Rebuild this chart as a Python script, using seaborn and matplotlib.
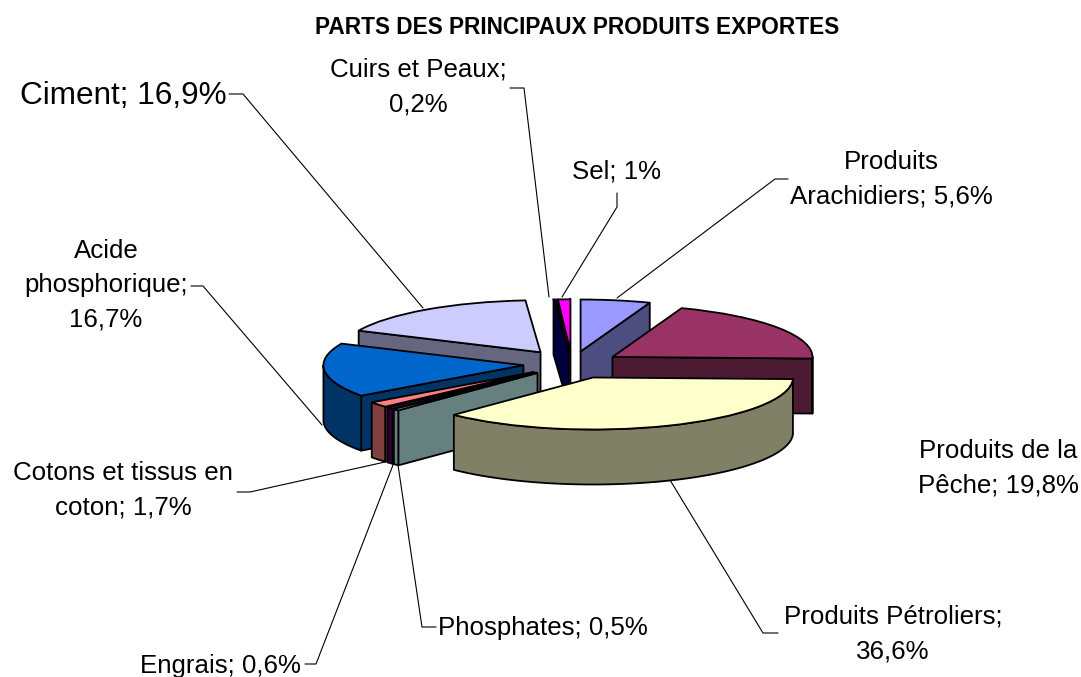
import numpy as np
import matplotlib
matplotlib.use("Agg")
import matplotlib.pyplot as plt
from matplotlib.colors import to_rgb
from matplotlib.patches import Polygon
from matplotlib.transforms import Affine2D
import seaborn as sns

categories = ["Produits Arachidiers", "Produits de la Pêche", "Produits Pétroliers",
              "Phosphates", "Engrais", "Cotons et tissus en coton",
              "Acide phosphorique", "Ciment", "Cuirs et Peaux", "Sel"]
shares = [5.6, 19.8, 36.6, 0.5, 0.6, 1.7, 16.7, 16.9, 0.2, 1.0]
palette_hex = ["#9999FF", "#993366", "#FFFFCC", "#CCFFFF", "#660066",
               "#FF8080", "#0066CC", "#CCCCFF", "#000080", "#FF00FF"]
explode_by_slice = [0.244, 0.244, 0.28, 0.244, 0.244, 0.244, 0.244, 0.275, 0.244, 0.244]

W, H = 1081, 677
CX, CY, RX, RY, DEPTH = 572, 364, 200, 52, 55
EDGE = 1.3

sns.set_theme(style="white")
plt.rcParams["font.family"] = ["Liberation Sans", "DejaVu Sans"]
colors = sns.color_palette(palette_hex, n_colors=len(palette_hex))

fig = plt.figure(figsize=(W / 100, H / 100), dpi=100, facecolor="white")
ax = fig.add_axes([0, 0, 1, 1])
wedges, _ = ax.pie(shares, colors=colors, startangle=90, counterclock=False,
                   explode=explode_by_slice, radius=1,
                   wedgeprops=dict(edgecolor="black", linewidth=EDGE))
ax.set_aspect("auto")
ax.set_xlim(-CX / RX, (W - CX) / RX)
ax.set_ylim((CY - H) / RY, CY / RY)
ax.axis("off")
depth = DEPTH / RY


def pt(c, ang):
    return np.array([c[0] + np.cos(np.radians(ang)), c[1] + np.sin(np.radians(ang))])


def centroid_y(w):
    mid = np.radians((w.theta1 + w.theta2) / 2)
    return w.center[1] + 0.5 * np.sin(mid)


order = sorted(range(len(wedges)), key=lambda i: -centroid_y(wedges[i]))
for rank, i in enumerate(order):
    w = wedges[i]
    z = 2 + rank * 3
    side = tuple(0.5 * v for v in to_rgb(colors[i]))
    style = dict(facecolor=side, edgecolor="black", linewidth=EDGE, joinstyle="round")
    c, a, b = w.center, w.theta1, w.theta2
    down = np.array([0, -depth])
    if np.cos(np.radians(a)) > 0:
        p = pt(c, a)
        ax.add_patch(Polygon([c, p, p + down, np.array(c) + down], zorder=z, **style))
    if np.cos(np.radians(b)) < 0:
        p = pt(c, b)
        ax.add_patch(Polygon([c, p, p + down, np.array(c) + down], zorder=z, **style))
    a0 = a % 360
    b0 = a0 + (b - a)
    for lo, hi in ((180, 360), (540, 720)):
        s, e = max(a0, lo), min(b0, hi)
        if e > s:
            t = np.linspace(s, e, 80)
            top = np.array([pt(c, x) for x in t])
            ax.add_patch(Polygon(np.vstack([top, (top + down)[::-1]]), zorder=z + 1, **style))
    w.set_zorder(z + 2)

px = Affine2D().scale(1, -1).translate(0, H)

title = "PARTS DES PRINCIPAUX PRODUITS EXPORTES"
ax.text(577, 28, title, transform=px, ha="center", va="center",
        fontsize=16.3, fontweight="bold", color="black")

labels = [
    ("Cuirs et Peaux;\n0,2%", 418, 87, 18.6),
    ("Ciment; 16,9%", 123, 96, 22.7),
    ("Sel; 1%", 616, 172, 18.6),
    ("Produits\nArachidiers; 5,6%", 891, 179, 18.6),
    ("Acide\nphosphorique;\n16,7%", 106, 285, 18.6),
    ("Produits de la\nPêche; 19,8%", 998, 468, 18.6),
    ("Cotons et tissus en\ncoton; 1,7%", 123, 490, 18.6),
    ("Produits Pétroliers;\n36,6%", 893, 634, 18.6),
    ("Phosphates; 0,5%", 543, 628, 18.6),
    ("Engrais; 0,6%", 220, 666, 18.6),
]
for text, x, y, size in labels:
    ax.text(x, y, text, transform=px, ha="center", va="center", multialignment="center",
            fontsize=size, color="black", linespacing=1.53)

leaders = [
    [(229, 94), (243, 94), (423, 308)],
    [(510, 88), (524, 88), (549, 297)],
    [(617, 193), (617, 207), (562, 297)],
    [(788, 179), (775, 179), (617, 298)],
    [(191, 286), (203, 286), (322, 425)],
    [(237, 492), (250, 492), (385, 462)],
    [(305, 664), (316, 664), (393, 465)],
    [(436, 627), (422, 627), (398, 465)],
    [(778, 633), (763, 633), (670, 480)],
]
for line in leaders:
    xs, ys = zip(*line)
    ax.plot(xs, ys, transform=px, color="black", linewidth=0.8, zorder=1)

fig.savefig("out.png", dpi=100, facecolor="white")
